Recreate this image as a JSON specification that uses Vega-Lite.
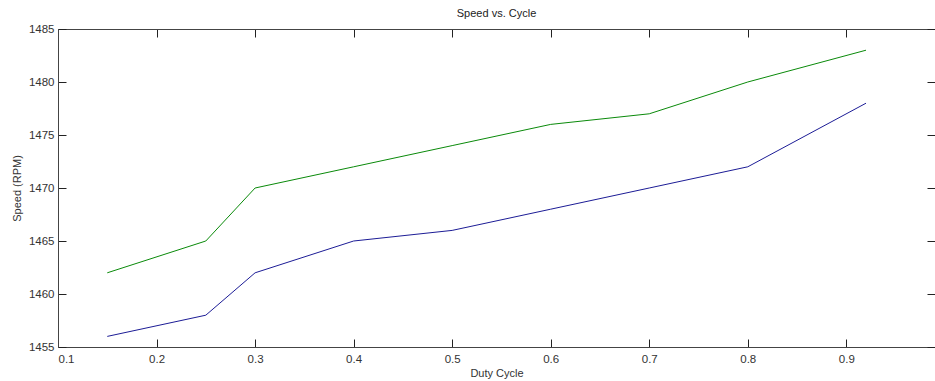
{
  "$schema": "https://vega.github.io/schema/vega-lite/v6.json",
  "width": 877,
  "height": 318,
  "autosize": {"type": "none"},
  "padding": {"left": 58, "top": 29, "right": 0, "bottom": 34},
  "background": "white",
  "title": {"text": "Speed vs. Cycle", "font": "Liberation Sans", "fontSize": 11, "fontWeight": "normal", "color": "#222", "anchor": "middle", "offset": 4},
  "config": {
    "view": {"stroke": null},
    "axis": {"grid": false, "labelFont": "Liberation Sans", "labelFontSize": 11.5, "labelColor": "#333", "titleFont": "Liberation Sans", "titleFontSize": 11, "titleFontWeight": "normal", "titleColor": "#333", "domainColor": "#444", "tickColor": "#222", "tickSize": -8, "labelPadding": 12}
  },
  "data": {"values": [
    {"duty": 0.15, "speed": 1462, "series": "A"},
    {"duty": 0.25, "speed": 1465, "series": "A"},
    {"duty": 0.3, "speed": 1470, "series": "A"},
    {"duty": 0.4, "speed": 1472, "series": "A"},
    {"duty": 0.5, "speed": 1474, "series": "A"},
    {"duty": 0.6, "speed": 1476, "series": "A"},
    {"duty": 0.7, "speed": 1477, "series": "A"},
    {"duty": 0.8, "speed": 1480, "series": "A"},
    {"duty": 0.92, "speed": 1483, "series": "A"},
    {"duty": 0.15, "speed": 1456, "series": "B"},
    {"duty": 0.25, "speed": 1458, "series": "B"},
    {"duty": 0.3, "speed": 1462, "series": "B"},
    {"duty": 0.4, "speed": 1465, "series": "B"},
    {"duty": 0.5, "speed": 1466, "series": "B"},
    {"duty": 0.6, "speed": 1468, "series": "B"},
    {"duty": 0.7, "speed": 1470, "series": "B"},
    {"duty": 0.8, "speed": 1472, "series": "B"},
    {"duty": 0.92, "speed": 1478, "series": "B"}
  ]},
  "layer": [
    {
      "mark": {"type": "line", "strokeWidth": 1},
      "encoding": {
        "x": {"field": "duty", "type": "quantitative", "scale": {"domain": [0.1, 0.99], "nice": false, "zero": false},
              "axis": {"orient": "bottom", "title": "Duty Cycle", "values": [0.1, 0.2, 0.3, 0.4, 0.5, 0.6, 0.7, 0.8, 0.9], "format": ".1f", "labelPadding": 14, "titlePadding": 3}},
        "y": {"field": "speed", "type": "quantitative", "scale": {"domain": [1455, 1485], "nice": false, "zero": false},
              "axis": {"orient": "left", "title": "Speed (RPM)", "values": [1455, 1460, 1465, 1470, 1475, 1480, 1485], "format": "d", "titlePadding": 6}},
        "color": {"field": "series", "type": "nominal", "scale": {"domain": ["A", "B"], "range": ["#0a8a0a", "#1c1c96"]}, "legend": null}
      }
    },
    {
      "mark": {"type": "line", "opacity": 0},
      "encoding": {
        "x": {"field": "duty", "type": "quantitative",
              "axis": {"orient": "top", "title": null, "labels": false, "values": [0.1, 0.2, 0.3, 0.4, 0.5, 0.6, 0.7, 0.8, 0.9]}},
        "y": {"field": "speed", "type": "quantitative",
              "axis": {"orient": "right", "title": null, "labels": false, "domain": false, "values": [1455, 1460, 1465, 1470, 1475, 1480, 1485]}},
        "detail": {"field": "series"}
      }
    }
  ],
  "resolve": {"axis": {"x": "independent", "y": "independent"}}
}
